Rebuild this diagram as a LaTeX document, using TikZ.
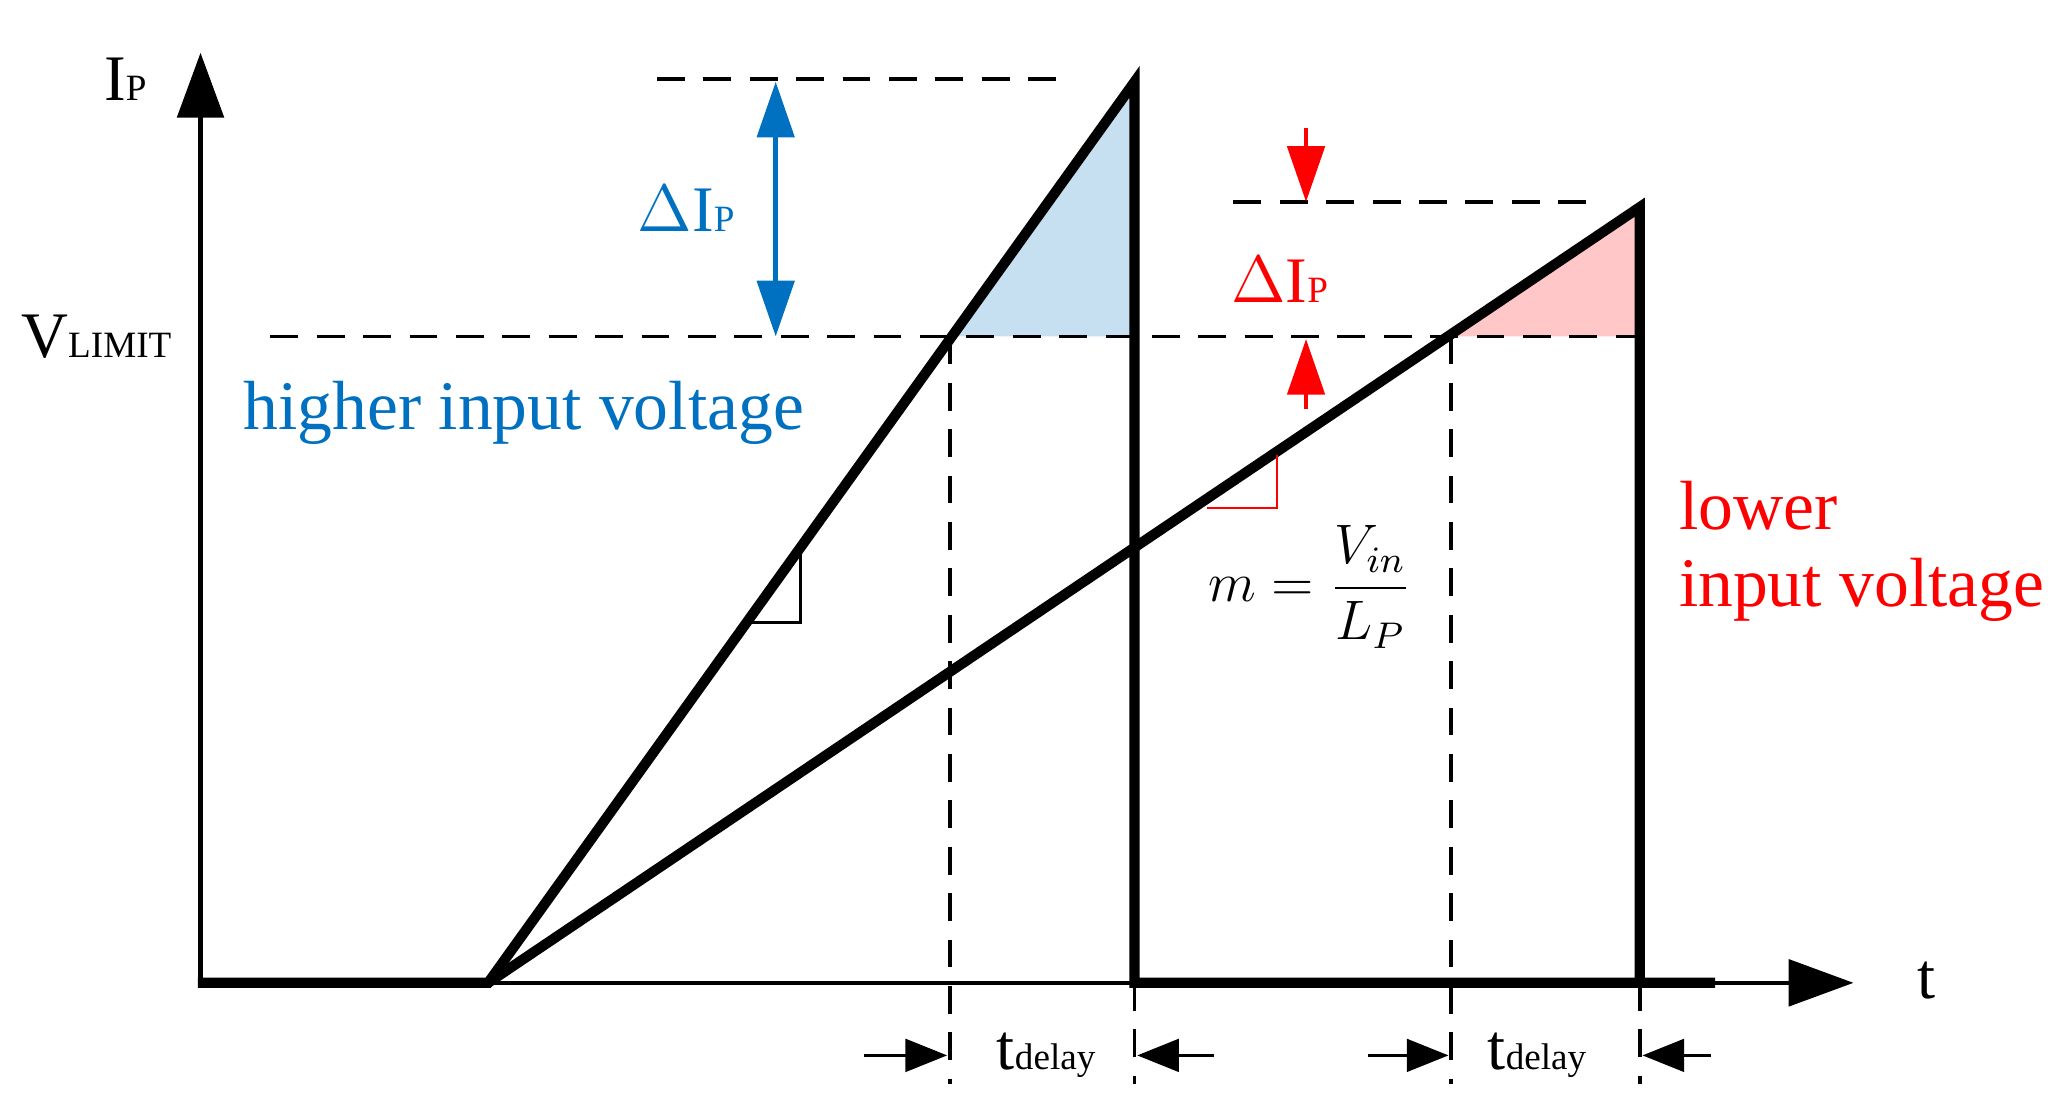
\documentclass[tikz,border=0pt]{standalone}
\usepackage{fontspec}
\setmainfont{Liberation Serif}
\usetikzlibrary{arrows.meta}
\definecolor{bl}{RGB}{0,112,192}
\definecolor{rd}{RGB}{255,0,0}
\newcommand{\sbs}[1]{{\fontsize{8}{8}\selectfont #1}}
\begin{document}
\begin{tikzpicture}[x=0.01cm,y=-0.01cm,
  thk/.style={line width=2.2pt},
  dsh/.style={dashed,line width=0.8pt,dash pattern=on 6pt off 4pt},
  lbl/.style={font=\fontsize{14}{16}\selectfont,inner sep=0pt},
  arr/.style={-{Triangle[length=9pt,width=7pt]},line width=0.8pt}]
\useasboundingbox (0,0) rectangle (1560,848);
% fills
\fill[bl!22] (720,255) -- (860,62) -- (860,255) -- cycle;
\fill[rd!22] (1100,255) -- (1243,157) -- (1243,255) -- cycle;
% axes
\coordinate (o) at (152,745);
\coordinate (ytop) at (152,40);
\coordinate (xend) at (1405,745);
\draw[-{Triangle[length=14pt,width=10pt]},line width=1pt] (o) -- (ytop);
\draw[-{Triangle[length=14pt,width=10pt]},line width=1pt] (o) -- (xend);
% dashed
\draw[dsh] (205,255) -- (1243,255);
\draw[dsh] (498,60) -- (810,60);
\draw[dsh] (935,153) -- (1215,153);
\draw[dsh] (720,255) -- (720,822);
\draw[dsh] (1100,255) -- (1100,822);
\draw[dsh] (860,745) -- (860,822);
\draw[dsh] (1243,745) -- (1243,822);
% waveforms
\coordinate (s) at (370,745);
\coordinate (p1) at (860,62);
\coordinate (p2) at (1243,157);
\draw[thk] (150,745) -- (s) -- (p1) -- (860,745) -- (1300,745);
\draw[thk] (s) -- (p2) -- (1243,745);
% slope markers
\draw[line width=0.6pt] (567,472) -- (607,472) -- (607,417);
\draw[rd,line width=0.6pt] (915,385) -- (968,385) -- (968,345);
% blue delta arrow
\draw[bl,{Triangle[length=12pt,width=8pt]}-{Triangle[length=12pt,width=8pt]},line width=1pt] (588,62) -- (588,255);
% red arrows
\draw[rd,-{Triangle[length=12pt,width=8pt]},line width=1pt] (990,97) -- (990,153);
\draw[rd,-{Triangle[length=12pt,width=8pt]},line width=1pt] (990,310) -- (990,257);
% tdelay arrows
\draw[arr] (655,800) -- (718,800);
\draw[arr] (920,800) -- (862,800);
\draw[arr] (1037,800) -- (1098,800);
\draw[arr] (1297,800) -- (1245,800);
% labels
\node[lbl] (ip) at (95,60) {I\sbs{P}};
\node[lbl] (vl) at (73,255) {V\sbs{LIMIT}};
\node[lbl,bl] (dib) at (520,158) {$\Delta$I\sbs{P}};
\node[lbl,bl,font=\fontsize{15}{18}\selectfont] (hiv) at (397,313) {higher input voltage};
\node[lbl,rd] (dir) at (970,212) {$\Delta$I\sbs{P}};
\node[lbl,rd,font=\fontsize{15}{18}\selectfont,anchor=west] (liv1) at (1272,383) {lower};
\node[lbl,rd,font=\fontsize{15}{18}\selectfont,anchor=west] (liv2) at (1272,447) {input voltage};
\node[lbl,font=\fontsize{12}{14}\selectfont] (m) at (993,445) {$m=\displaystyle\frac{V_{in}}{L_P}$};
\node[lbl] (td1) at (793,800) {t\sbs{delay}};
\node[lbl] (td2) at (1165,800) {t\sbs{delay}};
\node[lbl] (t) at (1460,743) {t};
\end{tikzpicture}
\end{document}
